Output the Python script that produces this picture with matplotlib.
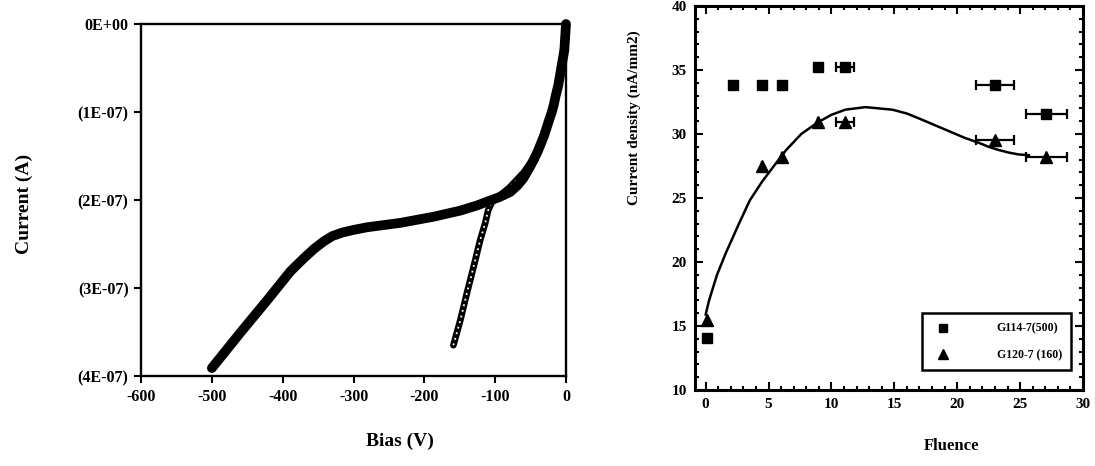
#coding:UTF-8
import numpy as np
import matplotlib
matplotlib.use('Agg')
import matplotlib.pyplot as plt
from matplotlib.ticker import MultipleLocator, FuncFormatter

# ---- left panel: I-V sweeps (bias in V, current in 1E-07 A) ----
bias_up = [-500, -460, -422, -389, -370, -355, -342, -330, -316, -300, -281, -234, -187, -149,
           -125, -112, -95, -79, -68, -60, -52, -46, -40, -36, -31, -27, -23, -20, -17, -15,
           -11, -8, -5, -2.4, 0]
curr_up = [-3.91, -3.51, -3.14, -2.81, -2.66, -2.55, -2.47, -2.41, -2.37, -2.34, -2.31, -2.26,
           -2.19, -2.12, -2.06, -2.02, -1.97, -1.91, -1.83, -1.75, -1.64, -1.55, -1.45, -1.37,
           -1.27, -1.17, -1.07, -1.00, -0.91, -0.83, -0.70, -0.56, -0.42, -0.30, 0]

bias_down = [0, -3, -6, -10, -14, -20, -30, -45, -60, -80, -95, -104.5,
             -110, -114, -121, -130.5, -140, -149, -159]
curr_down = [0, -0.22, -0.45, -0.66, -0.82, -1.02, -1.25, -1.52, -1.69, -1.86, -1.96, -2.02,
             -2.12, -2.26, -2.45, -2.76, -3.06, -3.36, -3.65]

yticks_left = [0, -1, -2, -3, -4]
xticks_left = [-600, -500, -400, -300, -200, -100, 0]

# ---- right panel: current density vs fluence ----
fl_sq = [0.13, 2.2, 4.5, 6.05, 8.9, 11.1, 23.0, 27.1]
jd_sq = [14.05, 33.8, 33.8, 33.8, 35.25, 35.2, 33.8, 31.6]
fl_tri = [0.13, 4.5, 6.1, 8.9, 11.1, 23.0, 27.1]
jd_tri = [15.5, 27.5, 28.2, 30.95, 30.95, 29.5, 28.2]
err_sq = [0, 0, 0, 0, 0, 0.7, 1.5, 1.65]
err_tri = [0, 0, 0, 0, 0.7, 1.5, 1.65]

fit_x = [0, 0.27, 0.9, 1.6, 2.65, 3.5, 4.5, 5.5, 6.4, 7.6, 8.9, 10.0, 11.1, 12.7,
         14.85, 16.0, 17.0, 18.2, 19.4, 20.6, 21.75, 22.5, 23.3, 24.1, 24.9, 25.7]
fit_y = [15.9, 17.0, 19.0, 20.7, 23.0, 24.8, 26.3, 27.6, 28.75, 30.0, 30.9, 31.5, 31.9, 32.1,
         31.9, 31.6, 31.2, 30.7, 30.2, 29.7, 29.3, 29.0, 28.75, 28.55, 28.4, 28.35]

labels_right = ['G114-7(500)', 'G120-7 (160)']

plt.rcParams['font.family'] = ['Liberation Serif', 'DejaVu Serif']
plt.rcParams['font.weight'] = 'bold'
plt.rcParams['axes.unicode_minus'] = False

fig = plt.figure(figsize=(10.95, 4.66), dpi=100)
ax1 = fig.add_axes([0.1288, 0.1931, 0.3881, 0.7554])
ax2 = fig.add_axes([0.6347, 0.1631, 0.3543, 0.8240])

# left: second sweep drawn under the first so only the branch shows its open circles
ax1.plot(bias_down, curr_down, color='black', linewidth=4.8, solid_capstyle='round',
         clip_on=False, zorder=2)
ax1.plot(bias_down, curr_down, color='white', linewidth=1.3, linestyle=(0, (1, 2.2)),
         clip_on=False, zorder=2.5)
ax1.plot(bias_up, curr_up, color='black', linewidth=7, solid_capstyle='round',
         solid_joinstyle='round', clip_on=False, zorder=3)
ax1.set_xlim(-600, 0)
ax1.set_ylim(-4, 0)
ax1.set_xticks(xticks_left)
ax1.set_yticks(yticks_left)

def cur_fmt(v, pos):
    n = int(round(-v))
    return '0E+00' if n == 0 else '(%dE-07)' % n

ax1.yaxis.set_major_formatter(FuncFormatter(cur_fmt))
ax1.tick_params(direction='out', length=5, width=1.5, labelsize=11.5, pad=4)
for s in ax1.spines.values():
    s.set_linewidth(1.7)
ax1.set_xlabel('Bias (V)', fontsize=14, fontweight='bold')
ax1.set_ylabel('Current (A)', fontsize=14, fontweight='bold')
ax1.xaxis.set_label_coords(0.61, -0.16)
ax1.yaxis.set_label_coords(-0.255, 0.49)

# right
ax2.plot(fit_x, fit_y, color='black', linewidth=1.8, zorder=2)
ax2.errorbar(fl_sq, jd_sq, xerr=err_sq, fmt='s', color='black', markersize=7,
             capsize=3.5, elinewidth=1.6, capthick=1.6, label=labels_right[0], zorder=3)
ax2.errorbar(fl_tri, jd_tri, xerr=err_tri, fmt='^', color='black', markersize=8,
             capsize=3.5, elinewidth=1.6, capthick=1.6, label=labels_right[1], zorder=3)
ax2.set_xlim(-0.85, 30)
ax2.set_ylim(10, 40)
ax2.xaxis.set_major_locator(MultipleLocator(5))
ax2.xaxis.set_minor_locator(MultipleLocator(1))
ax2.yaxis.set_major_locator(MultipleLocator(5))
ax2.yaxis.set_minor_locator(MultipleLocator(1))
ax2.tick_params(which='both', direction='in', top=True, right=True, width=1.5)
ax2.tick_params(which='major', length=6, labelsize=11, pad=6)
ax2.tick_params(which='minor', length=3)
for s in ax2.spines.values():
    s.set_linewidth(2.2)
ax2.set_xlabel('Fluence', fontsize=12, fontweight='bold')
ax2.set_ylabel('Current density (nA/mm2)', fontsize=11, fontweight='bold')
ax2.xaxis.set_label_coords(0.662, -0.125)
ax2.yaxis.set_label_coords(-0.14, 0.71)

handles, labs = ax2.get_legend_handles_labels()
handles = [h[0] for h in handles]
leg = ax2.legend(handles, labs, loc='lower right', bbox_to_anchor=(0.985, 0.036),
                 fontsize=8.5, handletextpad=3.5, labelspacing=1.2, borderpad=0.8,
                 fancybox=False, edgecolor='black', framealpha=1, markerscale=0.9)
leg.get_frame().set_linewidth(1.8)

plt.savefig('out.png', dpi=100)
